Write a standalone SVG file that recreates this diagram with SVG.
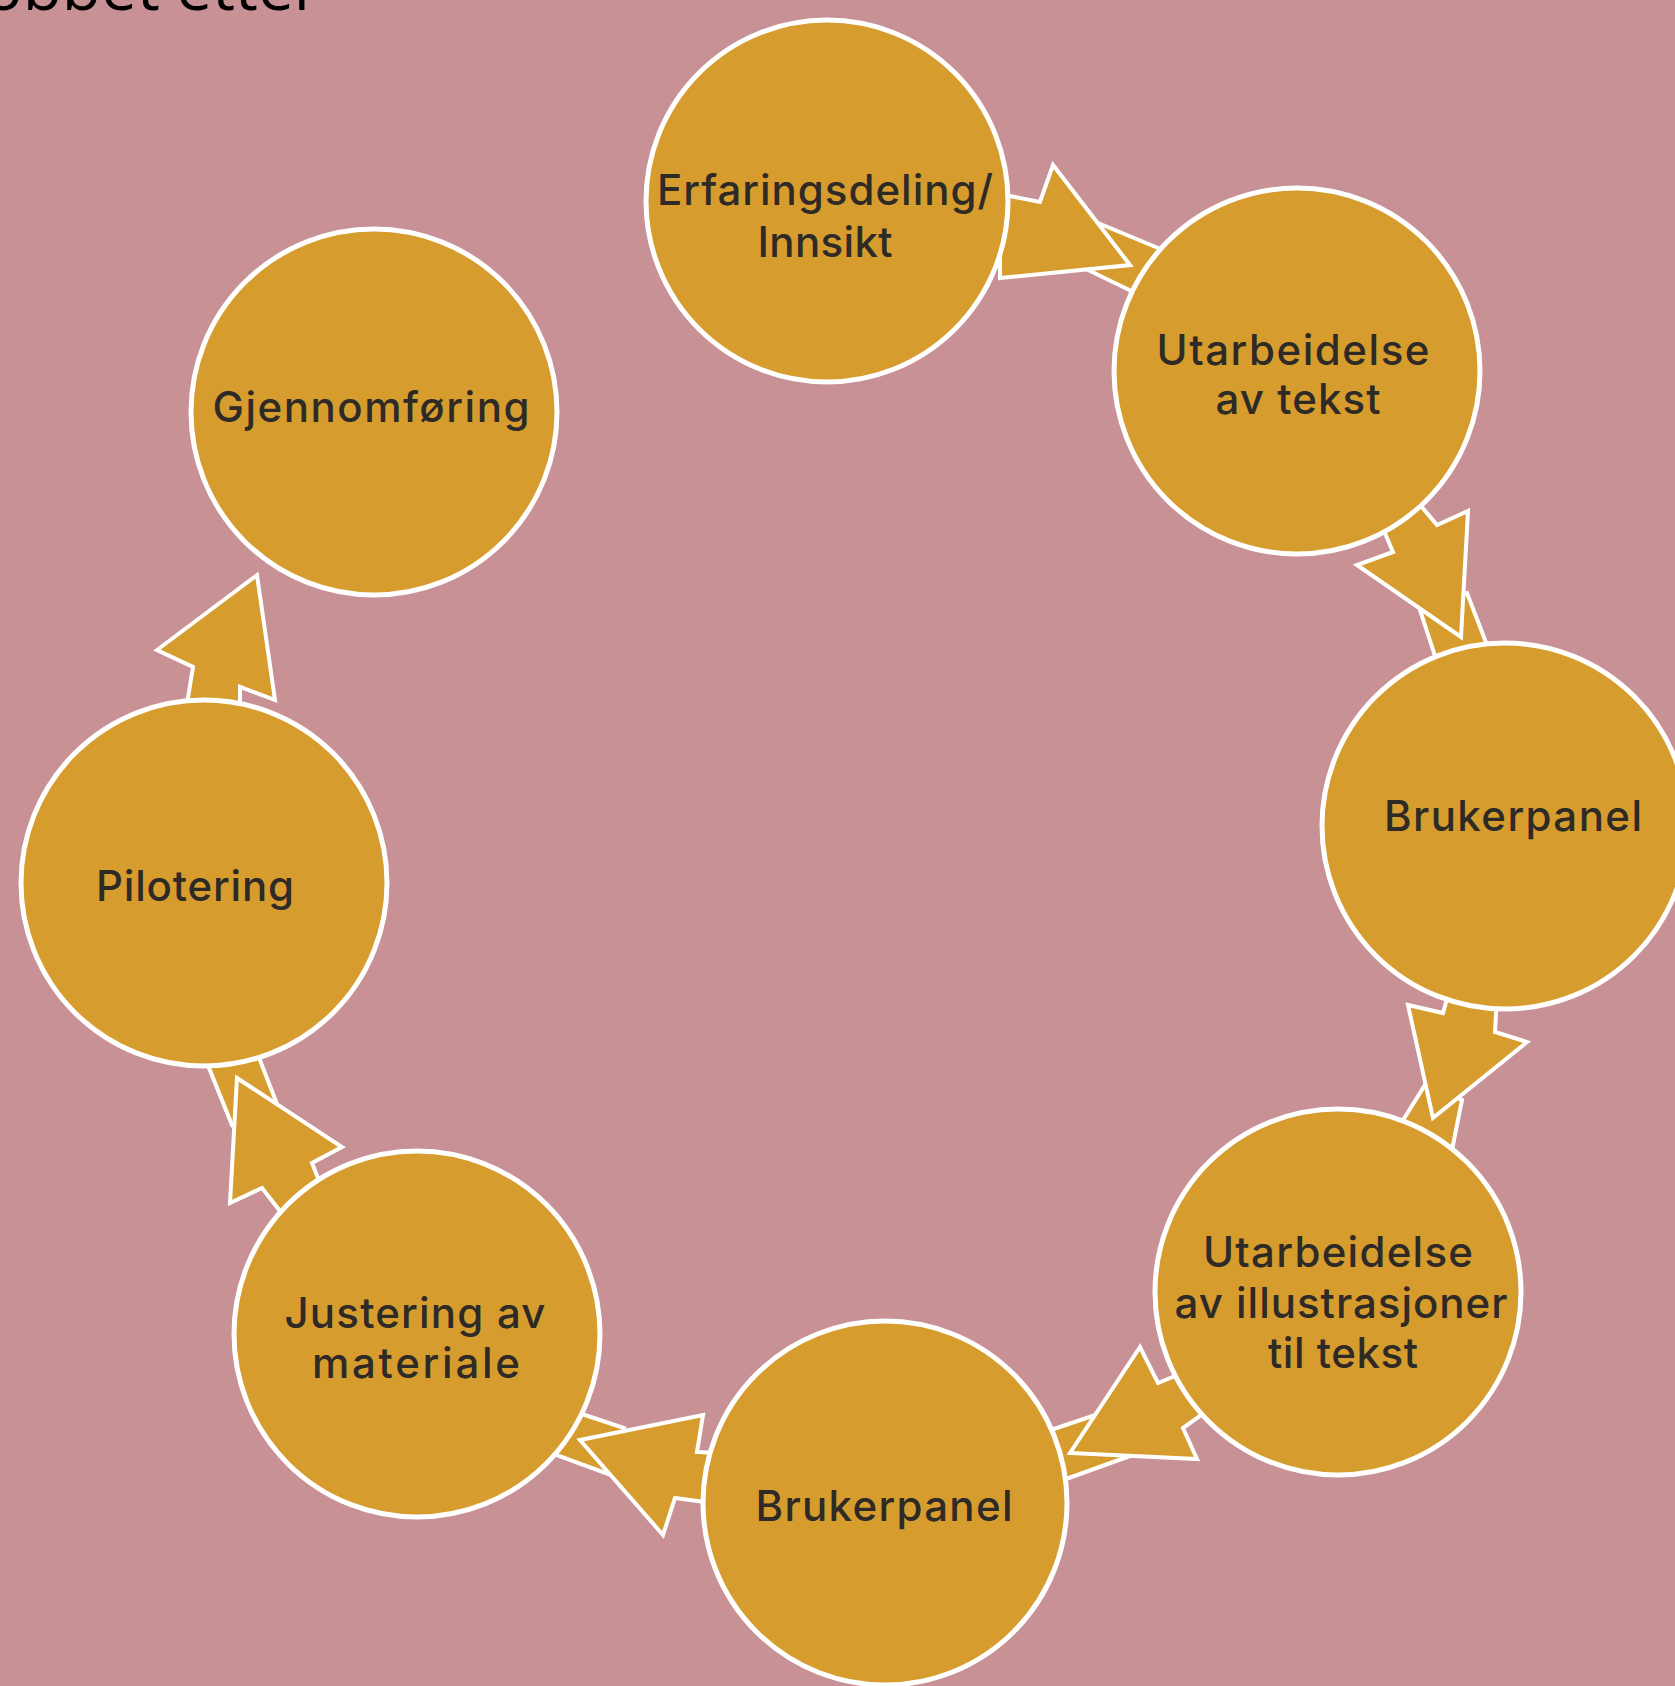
<svg xmlns="http://www.w3.org/2000/svg" width="1675" height="1686" viewBox="0 0 1675 1686">
  <defs>
    <style>
      .bg { fill: #C79196; }
      .step { fill: #D79C2E; stroke: #FFFFFF; stroke-width: 5; }
      .arrow { fill: #D79C2E; stroke: #FFFFFF; stroke-width: 4; stroke-linejoin: miter; }
      .label { font-family: Inter, "Open Sans", sans-serif; font-size: 42px; font-weight: 500; fill: #2E2A26; text-anchor: middle; }
      .title { font-family: "Open Sans", "Noto Sans", sans-serif; font-size: 64px; fill: #000000; text-anchor: end; }
    </style>
  </defs>

  <rect class="bg" x="0" y="0" width="1675" height="1686"/>

  <!-- heading, running off the top edge -->
  <text class="title" x="320" y="10">obbet etter</text>

  <!-- block arrows between the steps (drawn under the circles) -->
  <g id="connectors">
    <!-- Erfaringsdeling -> Utarbeidelse av tekst -->
    <polygon class="arrow" points="1098,223 1170,253 1150,300 1088,270"/>
    <polygon class="arrow" points="1000,194 1040,202 1053,165 1130,265 1000,278"/>
    <!-- Utarbeidelse av tekst -> Brukerpanel -->
    <polygon class="arrow" points="1420,610 1467,593 1487,645 1437,662"/>
    <polygon class="arrow" points="1410,493 1437,525 1468,511 1461,637 1357,565 1393,552 1381,524"/>
    <!-- Brukerpanel -> Utarbeidelse av illustrasjoner -->
    <polygon class="arrow" points="1425,1085 1462,1100 1452,1150 1400,1125"/>
    <polygon class="arrow" points="1408,1005 1443,1013 1448,995 1497,995 1495,1032 1527,1042 1433,1118"/>
    <!-- Utarbeidelse av illustrasjoner -> Brukerpanel -->
    <polygon class="arrow" points="1045,1432 1095,1415 1130,1456 1055,1483"/>
    <polygon class="arrow" points="1070,1453 1140,1347 1158,1383 1185,1372 1207,1411 1183,1428 1197,1459"/>
    <!-- Brukerpanel -> Justering av materiale -->
    <polygon class="arrow" points="570,1410 624,1428 608,1474 548,1452"/>
    <polygon class="arrow" points="580,1440 703,1415 697,1452 715,1453 712,1503 675,1498 663,1535"/>
    <!-- Justering av materiale -> Pilotering -->
    <polygon class="arrow" points="205,1058 258,1055 277,1104 232,1125"/>
    <polygon class="arrow" points="237,1078 342,1147 312,1163 322,1188 287,1220 262,1188 230,1203"/>
    <!-- Pilotering -> Gjennomføring -->
    <polygon class="arrow" points="257,575 157,650 193,667 186,710 240,710 240,687 275,700"/>
  </g>

  <g id="erfaringsdeling">
    <circle class="step" cx="827" cy="201" r="181"/>
    <text class="label" x="825" y="205" textLength="336">Erfaringsdeling/</text>
    <text class="label" x="825" y="257" textLength="135">Innsikt</text>
  </g>

  <g id="utarbeidelse-tekst">
    <circle class="step" cx="1297" cy="371" r="183"/>
    <text class="label" x="1293" y="365" textLength="273">Utarbeidelse</text>
    <text class="label" x="1298" y="414" textLength="165">av tekst</text>
  </g>

  <g id="brukerpanel-1">
    <circle class="step" cx="1505" cy="826" r="183"/>
    <text class="label" x="1513" y="831" textLength="258">Brukerpanel</text>
  </g>

  <g id="utarbeidelse-illustrasjoner">
    <circle class="step" cx="1338" cy="1292" r="183"/>
    <text class="label" x="1338" y="1267" textLength="270">Utarbeidelse</text>
    <text class="label" x="1341" y="1318" textLength="333">av illustrasjoner</text>
    <text class="label" x="1343" y="1368" textLength="150">til tekst</text>
  </g>

  <g id="brukerpanel-2">
    <circle class="step" cx="885" cy="1503" r="182"/>
    <text class="label" x="884" y="1521" textLength="257">Brukerpanel</text>
  </g>

  <g id="justering">
    <circle class="step" cx="417" cy="1334" r="183"/>
    <text class="label" x="415" y="1328" textLength="261">Justering av</text>
    <text class="label" x="416" y="1378" textLength="208">materiale</text>
  </g>

  <g id="pilotering">
    <circle class="step" cx="204" cy="883" r="183"/>
    <text class="label" x="195" y="901" textLength="198">Pilotering</text>
  </g>

  <g id="gjennomforing">
    <circle class="step" cx="374" cy="412" r="183"/>
    <text class="label" x="371" y="422" textLength="317">Gjennomføring</text>
  </g>
</svg>
